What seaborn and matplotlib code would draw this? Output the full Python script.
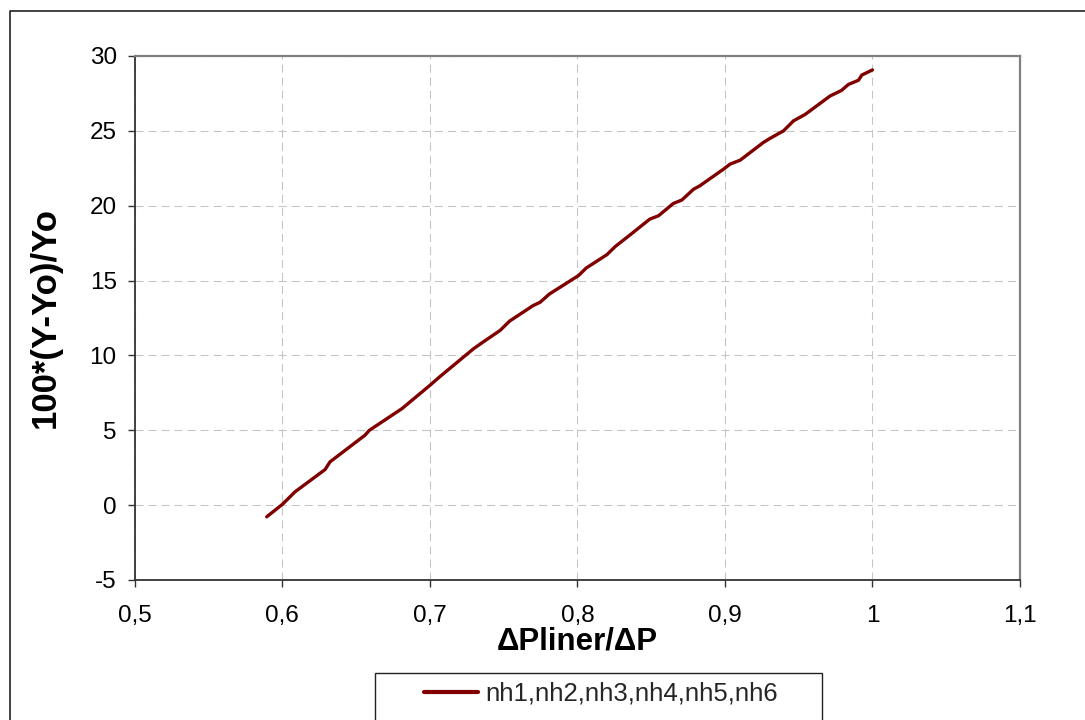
import matplotlib
matplotlib.use("Agg")
import matplotlib.pyplot as plt
import seaborn as sns
import pandas as pd
from matplotlib.patches import Rectangle
from matplotlib.lines import Line2D

# ---- data ----
ratio = [0.5894, 0.600, 0.6086, 0.629, 0.6323, 0.656, 0.659, 0.681, 0.700, 0.707,
         0.7295, 0.736, 0.7476, 0.754, 0.770, 0.7747, 0.781, 0.8007, 0.806, 0.820,
         0.8256, 0.8357, 0.849, 0.855, 0.865, 0.8708, 0.8787, 0.883, 0.899, 0.9035,
         0.9103, 0.926, 0.9306, 0.9397, 0.9465, 0.9544, 0.9713, 0.979, 0.9837, 0.9905,
         0.9928, 1.000]
change = [-0.78, 0.05, 0.89, 2.38, 2.89, 4.67, 5.00, 6.44, 8.00, 8.60,
          10.44, 10.89, 11.67, 12.29, 13.33, 13.55, 14.10, 15.33, 15.84, 16.73,
          17.27, 18.05, 19.10, 19.33, 20.15, 20.38, 21.10, 21.33, 22.44, 22.78,
          23.04, 24.22, 24.50, 25.00, 25.67, 26.10, 27.33, 27.70, 28.10, 28.38,
          28.73, 29.07]
series_name = "nh1,nh2,nh3,nh4,nh5,nh6"
xticks = [0.5, 0.6, 0.7, 0.8, 0.9, 1.0, 1.1]
xtick_labels = ["0,5", "0,6", "0,7", "0,8", "0,9", "1", "1,1"]
yticks = [-5, 0, 5, 10, 15, 20, 25, 30]
ytick_labels = ["-5", "0", "5", "10", "15", "20", "25", "30"]
xlabel = "ΔPliner/ΔP"
ylabel = "100*(Y-Yo)/Yo"

df = pd.DataFrame({"x": ratio, "y": change, "series": series_name})

sns.set_theme(style="white")
plt.rcParams["font.family"] = ["Liberation Sans", "DejaVu Sans"]

W, H = 1085, 720
fig = plt.figure(figsize=(W / 100, H / 100), dpi=100)
fig.patch.set_facecolor("white")

left, right, top, bottom = 134.8, 1020.0, 56.0, 580.0
ax = fig.add_axes([left / W, 1 - bottom / H, (right - left) / W, (bottom - top) / H])

sns.lineplot(data=df, x="x", y="y", hue="series", palette=["#800000"],
             linewidth=2.4, ax=ax, legend=False, sort=False)

ax.set_xlim(0.5, 1.1)
ax.set_ylim(-5, 30)
ax.set_xticks(xticks)
ax.set_xticklabels(xtick_labels)
ax.set_yticks(yticks)
ax.set_yticklabels(ytick_labels)

ax.grid(True, color="#c4c4c4", linewidth=0.75, linestyle=(0, (7.7, 4.8)))
ax.set_axisbelow(True)

for side in ["top", "right"]:
    ax.spines[side].set_color("#808080")
    ax.spines[side].set_linewidth(1.6)
for side in ["left", "bottom"]:
    ax.spines[side].set_color("#333333")
    ax.spines[side].set_linewidth(1.3)

ax.tick_params(axis="x", direction="out", length=5, width=1, color="#333333",
               pad=13, labelsize=17.5, labelcolor="black", bottom=True)
ax.tick_params(axis="y", direction="out", length=5, width=1, color="#333333",
               pad=8, labelsize=17.5, labelcolor="black", left=True)

ax.set_xlabel(xlabel, fontsize=22.5, fontweight="bold", color="black")
ax.set_ylabel(ylabel, fontsize=25, fontweight="bold", color="black")
ax.xaxis.label.set_va("center")
ax.xaxis.set_label_coords(0.5, (bottom - 641) / (bottom - top))
ax.yaxis.label.set_va("center")
ax.yaxis.set_label_coords((45 - left) / (right - left), 0.5)

# legend
handle = Line2D([], [], color="#800000", linewidth=3)
fig.legend([handle], [series_name], loc="center", frameon=False,
           bbox_to_anchor=(601 / W, 1 - 694 / H), fontsize=18.5,
           handlelength=2.1, handletextpad=0.25)
fig.patches.append(Rectangle((375 / W, -0.02), 447 / W, 0.02 + (720 - 673) / H,
                             transform=fig.transFigure, fill=False,
                             edgecolor="#222222", linewidth=1.0))

# outer chart border (left and top visible)
fig.lines.append(Line2D([10 / W, 10 / W, 1.01], [-0.01, 1 - 11 / H, 1 - 11 / H],
                        transform=fig.transFigure, color="#222222", linewidth=1.2))

fig.savefig("out.png", dpi=100)
